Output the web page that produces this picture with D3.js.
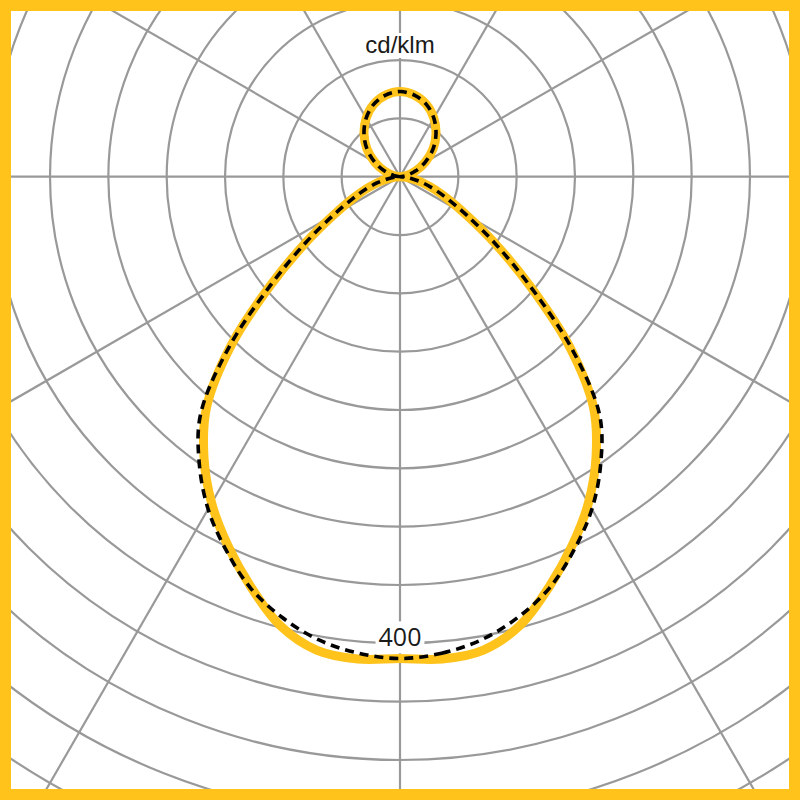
<!doctype html>
<html>
<head>
    <meta charset="UTF-8">
    <title>Polar diagram</title>
    <script src="https://d3js.org/d3.v7.min.js"></script>
    <style>
        body { margin: 0; background: #fff; }
        svg { display: block; }
    </style>
</head>
<body>
    <script>
        // gamma angles (deg, 0 = straight down, 180 = straight up)
        var angles = [0, 5, 10, 15, 20, 25, 30, 35, 40, 45, 50, 55, 60, 65, 70, 75, 80, 85, 90,
                      100, 110, 120, 130, 140, 150, 160, 170, 180];
        // cd/klm, solid yellow curve
        var solid = [413, 415, 412, 398, 374, 349, 323, 293, 258, 205, 145, 99, 66, 45, 31, 20, 11, 4, 0,
                     5, 14, 25, 37, 48, 58, 66, 71, 73];
        // cd/klm, dashed black curve
        var dashed = [413, 410, 403, 391, 375, 353, 329, 300, 266, 208, 145, 99, 66, 45, 31, 20, 11, 4, 0,
                      5, 14, 25, 37, 48, 58, 66, 71, 73];
        var rings = d3.range(50, 701, 50);
        var spokes = d3.range(0, 360, 30);
        var unit = "cd/klm";
        var ringLabel = 400;

        var w = 800, h = 800, cx = 400, cy = 176.7;
        var yellow = "#FFC31B", grey = "#999";

        var svg = d3.select("body").append("svg")
            .attr("width", w)
            .attr("height", h);

        var r = d3.scaleLinear().domain([0, 50]).range([0, 58.33]);

        var g = svg.append("g").attr("transform", "translate(" + cx + "," + cy + ")");

        //grid-----------------------
        g.selectAll("circle.ring")
            .data(rings)
            .enter().append("circle")
            .attr("class", "ring")
            .attr("r", function(d){ return r(d); })
            .attr("fill", "none")
            .attr("stroke", grey)
            .attr("stroke-width", 2.2);

        g.selectAll("line.spoke")
            .data(spokes)
            .enter().append("line")
            .attr("class", "spoke")
            .attr("x1", 0).attr("y1", 0)
            .attr("x2", function(d){ return Math.sin(d * Math.PI / 180) * r(700); })
            .attr("y2", function(d){ return -Math.cos(d * Math.PI / 180) * r(700); })
            .attr("stroke", grey)
            .attr("stroke-width", 2.2);

        //curves-----------------------
        // right half goes gamma 0 -> 180, left half mirrors it back
        function outline(vals){
            var pts = [];
            angles.forEach(function(a, i){
                pts.push([Math.PI - a * Math.PI / 180, r(vals[i])]);
            });
            for (var i = angles.length - 2; i > 0; i--) {
                pts.push([Math.PI + angles[i] * Math.PI / 180, r(vals[i])]);
            }
            return pts;
        }

        var line = d3.lineRadial()
            .angle(function(d){ return d[0]; })
            .radius(function(d){ return d[1]; })
            .curve(d3.curveCatmullRomClosed.alpha(0.5));

        g.append("path")
            .attr("d", line(outline(solid)))
            .attr("fill", "none")
            .attr("stroke", yellow)
            .attr("stroke-width", 9)
            .attr("stroke-linejoin", "round");

        g.append("path")
            .attr("d", line(outline(dashed)))
            .attr("fill", "none")
            .attr("stroke", "#000")
            .attr("stroke-width", 3.6)
            .attr("stroke-dasharray", "9,6");

        //labels-----------------------
        function label(txt, y, size, family, weight){
            var grp = svg.append("g");
            var bg = grp.append("rect").attr("fill", "#fff");
            var t = grp.append("text")
                .attr("x", cx)
                .attr("y", y)
                .attr("text-anchor", "middle")
                .style("font-family", family)
                .style("font-size", size + "px")
                .style("font-weight", weight)
                .attr("fill", "#1a1a1a")
                .text(txt);
            var b = t.node().getBBox();
            bg.attr("x", b.x - 3).attr("y", b.y + 2)
              .attr("width", b.width + 6).attr("height", b.height - 2);
        }

        label(unit, 53, 24, "'Liberation Sans', Arial, sans-serif", 400);
        label(ringLabel, cy + r(ringLabel) + 3, 25, "'Open Sans', sans-serif", 400);

        //frame-----------------------
        svg.append("rect")
            .attr("x", 5.5).attr("y", 5.5)
            .attr("width", w - 11).attr("height", h - 11)
            .attr("fill", "none")
            .attr("stroke", yellow)
            .attr("stroke-width", 11);
    </script>
</body>
</html>
